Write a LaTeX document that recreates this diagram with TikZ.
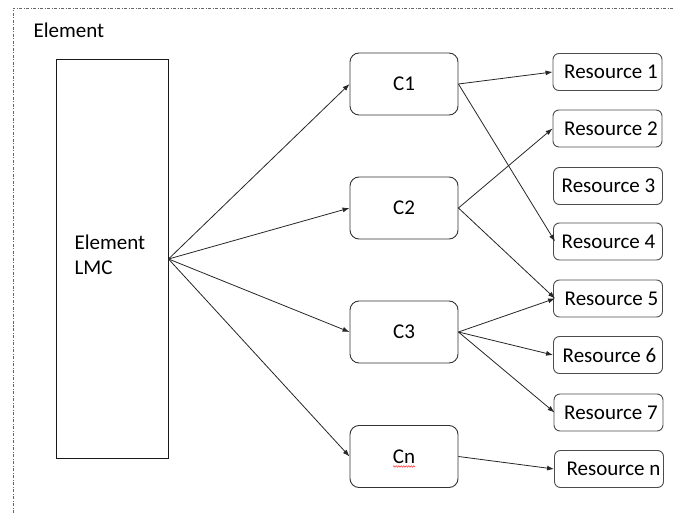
\documentclass[tikz,border=0pt]{standalone}
\usepackage{fontspec}
\setmainfont{Carlito}
\usetikzlibrary{arrows.meta,decorations.pathmorphing}
\begin{document}
\begin{tikzpicture}[x=1pt,y=-1pt,
  every node/.style={font=\fontsize{21}{25}\selectfont, text=black},
  cbox/.style={draw=black!80, line width=0.9pt, rounded corners=9pt,
    minimum width=108pt, minimum height=62pt, inner sep=0pt},
  rbox/.style={draw=black!70, line width=0.9pt, rounded corners=6pt,
    minimum width=109pt, minimum height=37pt, inner sep=0pt},
  link/.style={draw=black!85, line width=0.8pt,
    -{Latex[length=7pt,width=5pt]}},
  frame/.style={draw=black!60, line width=0.8pt,
    dash pattern=on 3pt off 1.5pt on 1pt off 1.5pt}]
\useasboundingbox (0,0) rectangle (675,513);

% dashed outline of the element
\draw[frame] (13,513) -- (13,8) -- (675,8);
\node[anchor=west] (title) at (30,30) {Element};

% local management controller
\node[draw=black!90, line width=1pt, minimum width=112pt, minimum height=398pt,
  inner sep=0pt] (lmc) at (112,259) {};
\node[anchor=west, align=left, font=\fontsize{21}{25}\selectfont] (lmctext) at (71,255) {Element\\LMC};

% controllers
\node[cbox] (c1) at (404,84) {C1};
\node[cbox] (c2) at (404,208) {C2};
\node[cbox] (c3) at (404,332) {C3};
\node[cbox] (cn) at (404,456.5) {Cn};
\draw[red!85, line width=0.5pt, decorate,
  decoration={snake, amplitude=0.8pt, segment length=2.5pt}]
  ([xshift=-11pt,yshift=-10pt]cn.center) -- ([xshift=11pt,yshift=-10pt]cn.center);

% resources
\node[rbox] (r1) at (607.5,72) {\hspace{7pt}Resource 1};
\node[rbox] (r2) at (607.5,128.5) {\hspace{7pt}Resource 2};
\node[rbox] (r3) at (608,186) {\hspace{1pt}Resource 3};
\node[rbox] (r4) at (608,241.5) {\hspace{1pt}Resource 4};
\node[rbox] (r5) at (608,298.5) {\hspace{7pt}Resource 5};
\node[rbox] (r6) at (608,355) {\hspace{3pt}Resource 6};
\node[rbox] (r7) at (608.5,412.5) {\hspace{5pt}Resource 7};
\node[rbox] (rn) at (609,469) {\hspace{9pt}Resource n};

% connections from the LMC to the controllers
\draw[link] (lmc.east) -- (c1.west);
\draw[link] (lmc.east) -- (c2.west);
\draw[link] (lmc.east) -- (c3.west);
\draw[link] (lmc.east) -- (cn.west);

% connections from the controllers to the resources
\draw[link] (c1.east) -- (r1.west);
\draw[link] (c1.east) -- ([xshift=2pt]r4.west);
\draw[link] (c2.east) -- (r2.west);
\draw[link] (c2.east) -- ([xshift=2pt]r5.west);
\draw[link] (c3.east) -- ([xshift=2pt]r5.west);
\draw[link] (c3.east) -- (r6.west);
\draw[link] (c3.east) -- ([xshift=1pt]r7.west);
\draw[link] (cn.east) -- (rn.west);
\end{tikzpicture}
\end{document}
